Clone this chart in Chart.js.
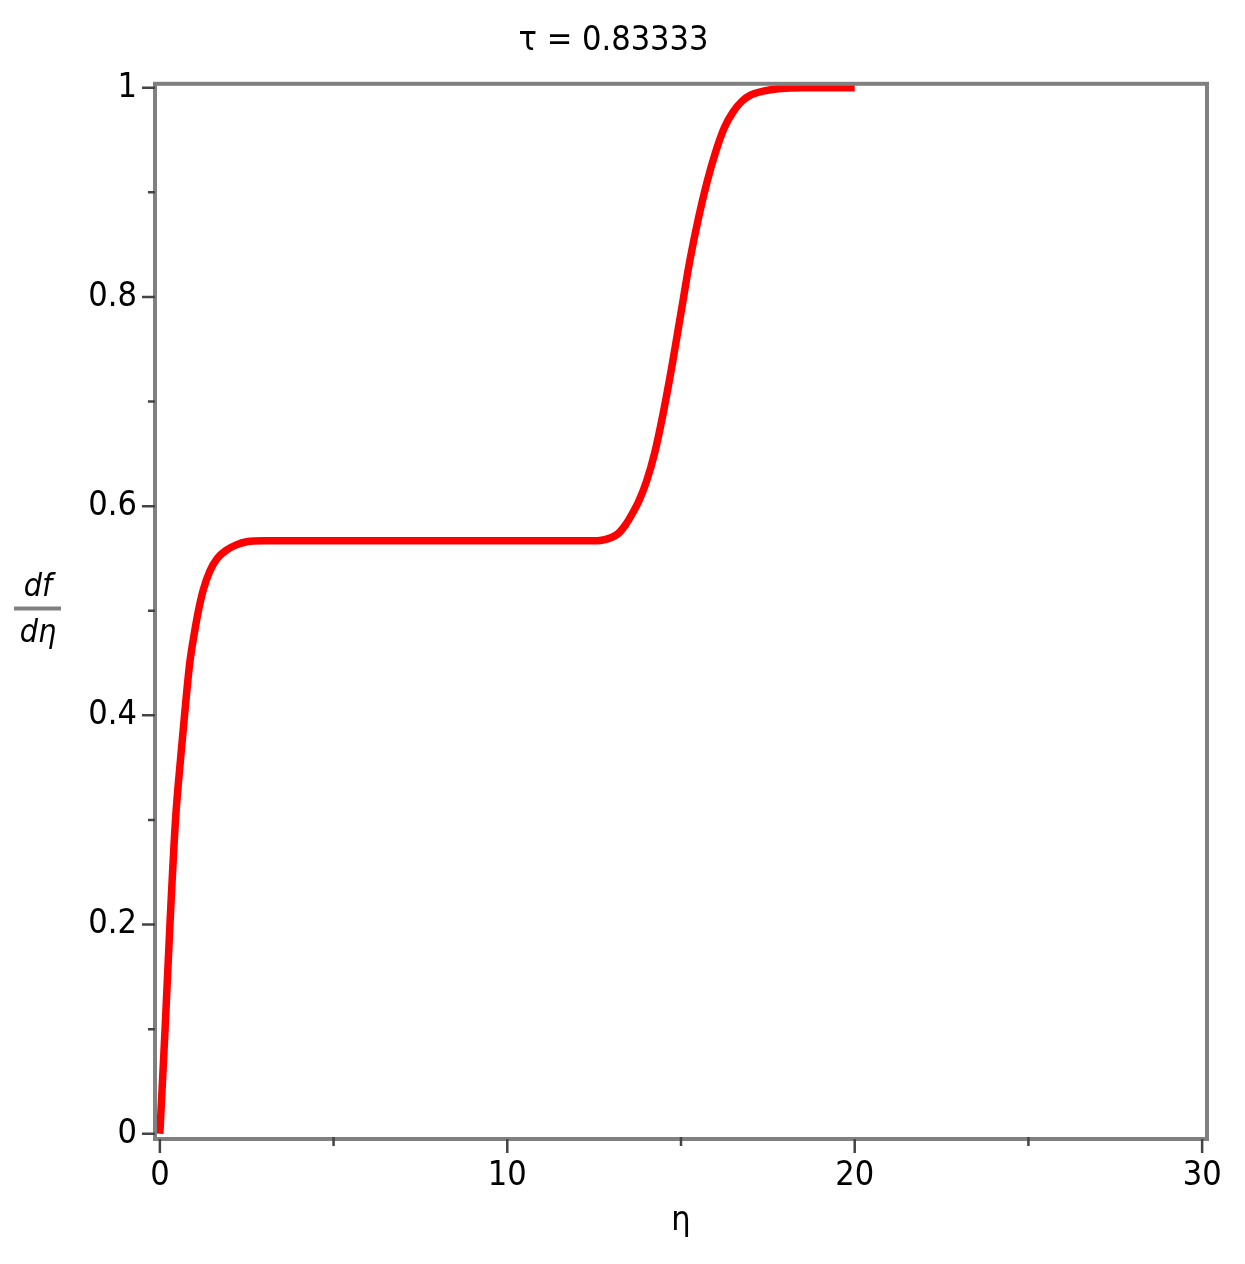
<!DOCTYPE html>
<html lang="en">
<head>
  <meta charset="UTF-8">
  <title>tau = 0.83333</title>
  <script src="https://cdn.jsdelivr.net/npm/chart.js"></script>
  <style>
    html, body { margin: 0; padding: 0; background: #fff; }
  </style>
</head>
<body>
  <canvas id="dfChart" width="1245" height="1264"></canvas>

  <script>
    // values
    const etaValues = [0, 0.15, 0.29, 0.45, 0.6, 0.71, 0.86, 1.0, 1.11, 1.25, 1.44, 1.65, 1.92, 2.2, 2.5, 3.0,
      4.0, 6.0, 8.0, 10.0, 12.0, 12.6, 13.0, 13.2, 13.4, 13.6, 13.8, 14.0, 14.25, 14.5, 14.75, 15.0,
      15.25, 15.5, 15.75, 16.0, 16.25, 16.5, 16.75, 17.0, 17.4, 17.8, 18.5, 19.25, 20.0];
    const dfValues = [0, 0.1, 0.2, 0.3, 0.36, 0.4, 0.45, 0.48, 0.5, 0.52, 0.538, 0.55, 0.558, 0.563, 0.566, 0.567,
      0.567, 0.567, 0.567, 0.567, 0.567, 0.567, 0.57, 0.574, 0.582, 0.593, 0.606, 0.623, 0.652, 0.691, 0.736, 0.785,
      0.834, 0.875, 0.91, 0.939, 0.962, 0.977, 0.987, 0.993, 0.997, 0.999, 1.0, 1.0, 1.0];

    const xMajorTicks = [0, 10, 20, 30];
    const xMinorTicks = [5, 15, 25];
    const yMajorTicks = [0, 0.2, 0.4, 0.6, 0.8, 1];
    const yMinorTicks = [0.1, 0.3, 0.5, 0.7, 0.9];

    const fontFamily = "'DejaVu Sans Condensed', 'DejaVu Sans', sans-serif";

    // Maple style frame, tick marks and the df/dη fraction label
    const maplePlot = {
      id: 'maplePlot',
      afterDatasetsDraw(chart) {
        const { ctx, chartArea: a, scales } = chart;
        ctx.save();
        ctx.strokeStyle = '#808080';
        ctx.lineWidth = 4;
        ctx.strokeRect(a.left, a.top, a.right - a.left, a.bottom - a.top);

        ctx.strokeStyle = '#444';
        ctx.lineWidth = 2.5;
        ctx.beginPath();
        yMajorTicks.forEach(v => {
          const y = scales.y.getPixelForValue(v);
          ctx.moveTo(a.left - 13, y); ctx.lineTo(a.left, y);
        });
        yMinorTicks.forEach(v => {
          const y = scales.y.getPixelForValue(v);
          ctx.moveTo(a.left - 7, y); ctx.lineTo(a.left, y);
        });
        xMajorTicks.forEach(v => {
          const x = scales.x.getPixelForValue(v);
          ctx.moveTo(x, a.bottom); ctx.lineTo(x, a.bottom + 14);
        });
        xMinorTicks.forEach(v => {
          const x = scales.x.getPixelForValue(v);
          ctx.moveTo(x, a.bottom - 2); ctx.lineTo(x, a.bottom + 7);
        });
        ctx.stroke();
        ctx.restore();
      },
      afterDraw(chart) {
        const { ctx, chartArea: a } = chart;
        const cy = (a.top + a.bottom) / 2;
        const cx = 38;
        ctx.save();
        ctx.fillStyle = '#000';
        ctx.font = 'italic 32px ' + fontFamily;
        ctx.textAlign = 'center';
        ctx.textBaseline = 'middle';
        ctx.fillText('df', cx, cy - 24);
        ctx.fillText('dη', cx, cy + 22);
        ctx.strokeStyle = '#808080';
        ctx.lineWidth = 4;
        ctx.beginPath();
        ctx.moveTo(14, cy - 3);
        ctx.lineTo(61, cy - 3);
        ctx.stroke();
        ctx.restore();
      }
    };

    const points = etaValues.map((eta, i) => ({ x: eta, y: dfValues[i] }));

    new Chart(document.getElementById('dfChart').getContext('2d'), {
      type: 'line',
      data: {
        datasets: [{
          label: 'df/dη',
          data: points,
          borderColor: '#ff0000',
          borderWidth: 7.5,
          pointRadius: 0,
          fill: false,
          cubicInterpolationMode: 'monotone'
        }]
      },
      options: {
        responsive: false,
        animation: false,
        layout: { padding: { left: 20, right: 38, top: 0, bottom: 0 } },
        plugins: {
          legend: { display: false },
          tooltip: { enabled: false },
          title: {
            display: true,
            text: 'τ = 0.83333',
            color: '#000',
            font: { family: fontFamily, size: 34, weight: 'normal' },
            padding: { top: 21, bottom: 22 }
          }
        },
        scales: {
          x: {
            type: 'linear',
            min: -0.14,
            max: 30.14,
            afterBuildTicks: s => { s.ticks = xMajorTicks.map(v => ({ value: v })); },
            afterFit: s => { s.height = 125; },
            grid: { display: false, drawTicks: false },
            border: { display: false },
            ticks: {
              color: '#000',
              padding: 17,
              maxRotation: 0,
              autoSkip: false,
              font: { family: fontFamily, size: 34 },
              callback: v => String(v)
            },
            title: {
              display: true,
              text: 'η',
              color: '#000',
              font: { family: fontFamily, size: 34 },
              padding: { top: 0, bottom: 22 }
            }
          },
          y: {
            type: 'linear',
            min: -0.005,
            max: 1.0038,
            afterBuildTicks: s => { s.ticks = yMajorTicks.map(v => ({ value: v })); },
            afterFit: s => { s.width = 135; },
            grid: { display: false, drawTicks: false },
            border: { display: false },
            ticks: {
              color: '#000',
              padding: 18,
              autoSkip: false,
              font: { family: fontFamily, size: 34 },
              callback: v => String(v)
            }
          }
        }
      },
      plugins: [maplePlot]
    });
  </script>
</body>
</html>
